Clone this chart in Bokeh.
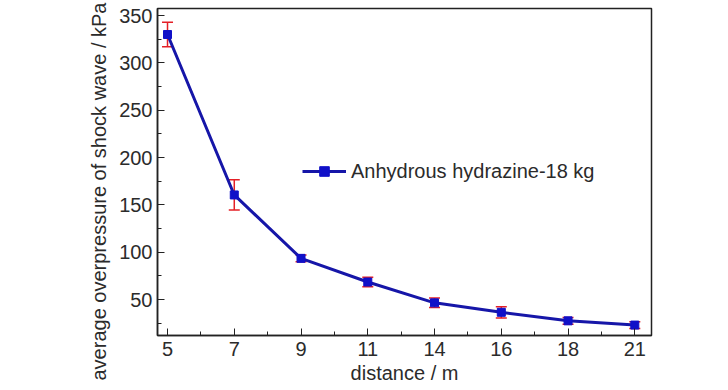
from bokeh.plotting import figure
from bokeh.models import (ColumnDataSource, Range1d, FixedTicker, Whisker, TeeHead,
                          Legend, LegendItem, Title)
from bokeh.embed import file_html
from bokeh.resources import INLINE

# ---- data ----
distances = ["5", "7", "9", "11", "14", "16", "18", "21"]
pressure = [330, 160.5, 93.5, 68.5, 46.5, 36.5, 27.5, 23]
error = [13, 16, 3.5, 5, 5, 6, 3.5, 3.5]
y_ticks = [50, 100, 150, 200, 250, 300, 350]
series_name = "Anhydrous hydrazine-18 kg"
x_title = "distance / m"
y_title = "average overpressure of shock wave / kPa"

xi = list(range(len(distances)))
src = ColumnDataSource(dict(
    x=xi, y=pressure,
    upper=[p + e for p, e in zip(pressure, error)],
    lower=[p - e for p, e in zip(pressure, error)],
))

FONT = "Liberation Sans"
TXT = "#2b2b2b"
AX = "#222222"

p = figure(width=728, height=390, output_backend="svg", toolbar_location=None,
           x_range=Range1d(-0.15, len(distances) - 1 + 0.25),
           y_range=Range1d(12, 357.5),
           min_border_left=157, min_border_right=77, min_border_top=8,
           min_border_bottom=55)
p.grid.visible = False
p.outline_line_color = AX
p.outline_line_width = 1.5
p.background_fill_color = "white"
p.border_fill_color = "white"

# axes
minor_x = [i + 0.5 for i in xi[:-1]]
p.xaxis.ticker = FixedTicker(ticks=xi, minor_ticks=minor_x)
p.xaxis.major_label_overrides = {i: d for i, d in zip(xi, distances)}
minor_y = [t - 25 for t in y_ticks] + [y_ticks[-1] + 25]
p.yaxis.ticker = FixedTicker(ticks=y_ticks, minor_ticks=[m for m in minor_y if m > 12])

for ax in (p.xaxis[0], p.yaxis[0]):
    ax.axis_line_color = AX
    ax.axis_line_width = 1.5
    ax.major_tick_line_color = AX
    ax.minor_tick_line_color = AX
    ax.major_tick_in = 7
    ax.major_tick_out = 0
    ax.minor_tick_in = 4
    ax.minor_tick_out = 0
    ax.major_label_text_font = FONT
    ax.major_label_text_font_size = "20px"
    ax.major_label_text_color = TXT
    ax.axis_label_text_font = FONT
    ax.axis_label_text_font_size = "20px"
    ax.axis_label_text_font_style = "normal"
    ax.axis_label_text_color = TXT

p.xaxis.axis_label = x_title
p.xaxis.major_label_standoff = 6
p.yaxis.major_label_standoff = 5
p.xaxis.axis_label_standoff = 3

# y-axis title as a side title (so it can extend past the frame height)
p.add_layout(Title(text=y_title, align="left", offset=-45, text_font=FONT,
                   text_font_size="20px", text_font_style="normal",
                   text_color=TXT, standoff=14), "left")

# error bars
w = Whisker(source=src, base="x", upper="upper", lower="lower",
            line_color="#e41f26", line_width=1.5,
            upper_head=TeeHead(size=11, line_color="#e41f26", line_width=1.5),
            lower_head=TeeHead(size=11, line_color="#e41f26", line_width=1.5))
p.add_layout(w)

ln = p.line("x", "y", source=src, line_color="#1616a8", line_width=3)
sq = p.scatter("x", "y", source=src, marker="square", size=8,
               fill_color="#1010c8", line_color="#1010c8")

legend = Legend(items=[LegendItem(label=series_name, renderers=[ln, sq])],
                location=(145, 152), label_text_font=FONT,
                label_text_font_size="20px", label_text_color=TXT,
                glyph_width=44, glyph_height=24, padding=0, margin=0,
                spacing=0, label_standoff=5,
                border_line_color=None, background_fill_alpha=0)
p.add_layout(legend)

open("out.html", "w").write(file_html(p, INLINE))
